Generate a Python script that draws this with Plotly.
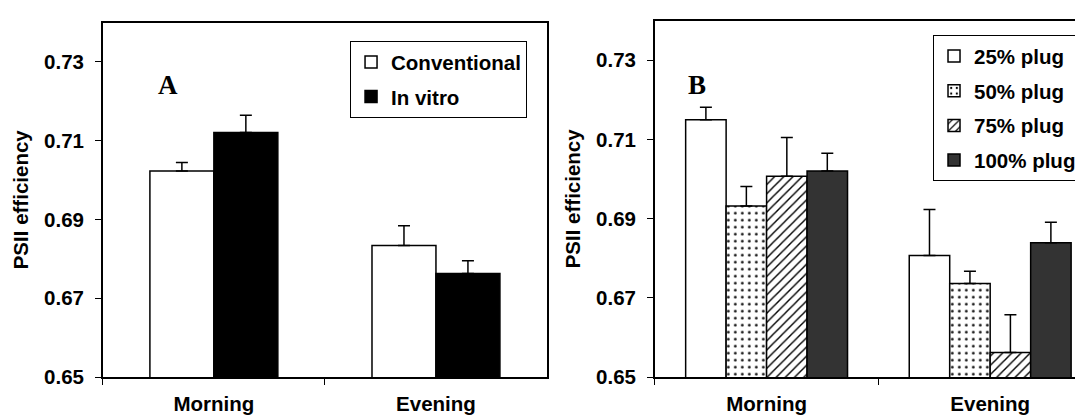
import plotly.graph_objects as go

categories = ["Morning", "Evening"]

# Panel A
a_names = ["Conventional", "In vitro"]
a_values = [[0.7023, 0.6834], [0.7121, 0.6763]]
a_errors = [[0.0022, 0.0050], [0.0044, 0.0032]]

# Panel B
b_names = ["25% plug", "50% plug", "75% plug", "100% plug"]
b_values = [[0.7150, 0.6807], [0.6932, 0.6736], [0.7007, 0.6562], [0.7020, 0.6839]]
b_errors = [[0.0031, 0.0116], [0.0049, 0.0031], [0.0098, 0.0095], [0.0045, 0.0052]]

y_ticks = [0.65, 0.67, 0.69, 0.71, 0.73]
y_range = [0.65, 0.74]

FONT = "Liberation Sans, Arial, sans-serif"
FS = 20.5

a_styles = [
    dict(color="white", pattern=None),
    dict(color="black", pattern=None),
]
b_styles = [
    dict(color="white", pattern=None),
    dict(color="white", pattern=dict(shape=".", fgcolor="black", fgopacity=1, bgcolor="white", size=7, solidity=0.12)),
    dict(color="white", pattern=dict(shape="/", fgcolor="black", fgopacity=1, bgcolor="white", size=6.5, solidity=0.22)),
    dict(color="#333333", pattern=None),
]

# bar widths as fraction of a category slot
A_BAR_W = 0.288
B_BAR_W = 0.181

fig = go.Figure()

for i, name in enumerate(a_names):
    st = a_styles[i]
    marker = dict(color=st["color"], line=dict(color="black", width=1.5))
    if st["pattern"]:
        marker["pattern"] = st["pattern"]
    fig.add_trace(go.Bar(
        x=categories, y=a_values[i], name=name, marker=marker,
        width=A_BAR_W, offset=-A_BAR_W * len(a_names) / 2 + i * A_BAR_W,
        error_y=dict(type="data", symmetric=False, array=a_errors[i], arrayminus=[0] * len(categories),
                     color="black", thickness=1.5, width=6),
        xaxis="x", yaxis="y", legend="legend", legendgroup="a" + str(i),
    ))

for i, name in enumerate(b_names):
    st = b_styles[i]
    marker = dict(color=st["color"], line=dict(color="black", width=1.5))
    if st["pattern"]:
        marker["pattern"] = st["pattern"]
    fig.add_trace(go.Bar(
        x=categories, y=b_values[i], name=name, marker=marker,
        width=B_BAR_W, offset=-B_BAR_W * len(b_names) / 2 + i * B_BAR_W,
        error_y=dict(type="data", symmetric=False, array=b_errors[i], arrayminus=[0] * len(categories),
                     color="black", thickness=1.5, width=6),
        xaxis="x2", yaxis="y2", legend="legend2", legendgroup="b" + str(i),
    ))

W, H = 1083, 417
tickfont = dict(family=FONT, size=FS, color="black", weight="bold")
axis_common = dict(showline=True, linecolor="black", linewidth=1.5, mirror=True,
                   ticks="outside", tickcolor="black", tickwidth=1.2, ticklen=6,
                   showgrid=False, zeroline=False, tickfont=tickfont)

xcommon = dict(axis_common, type="category", tickson="boundaries", ticklabelstandoff=8)
ycommon = dict(axis_common, range=y_range, tickvals=y_ticks, tickformat=".2f", ticklabelstandoff=7,
               title=dict(text="PSII efficiency", standoff=10, font=tickfont))

legend_common = dict(xanchor="right", yanchor="top", bgcolor="white", bordercolor="black", borderwidth=1,
                     font=tickfont, tracegroupgap=5, traceorder="grouped")

fig.update_layout(
    width=W, height=H,
    margin=dict(l=0, r=0, t=0, b=0),
    paper_bgcolor="white", plot_bgcolor="white",
    barmode="group",
    font=dict(family=FONT, color="black"),
    xaxis=dict(xcommon, domain=[95 / W, 540 / W], anchor="y", range=[-0.5, 1.5]),
    yaxis=dict(ycommon, domain=[1 - 379 / H, 1 - 15 / H], anchor="x"),
    xaxis2=dict(xcommon, domain=[648 / W, 1.0], anchor="y2", range=[-0.5, -0.5 + 2 * (1083 - 648) / (1096 - 648)]),
    yaxis2=dict(ycommon, domain=[1 - 379 / H, 1 - 13 / H], anchor="x2"),
    legend=dict(legend_common, x=520 / W, y=1 - 34 / H),
    legend2=dict(legend_common, x=1076 / W, y=1 - 28 / H),
    annotations=[
        dict(text="A", xref="paper", yref="paper", x=148 / W, y=1 - 62 / H, showarrow=False,
             font=dict(family="Liberation Serif, Times New Roman, serif", size=27, color="black", weight="bold")),
        dict(text="B", xref="paper", yref="paper", x=690 / W, y=1 - 62 / H, showarrow=False,
             font=dict(family="Liberation Serif, Times New Roman, serif", size=27, color="black", weight="bold")),
    ],
)

fig.write_html("out.html")
